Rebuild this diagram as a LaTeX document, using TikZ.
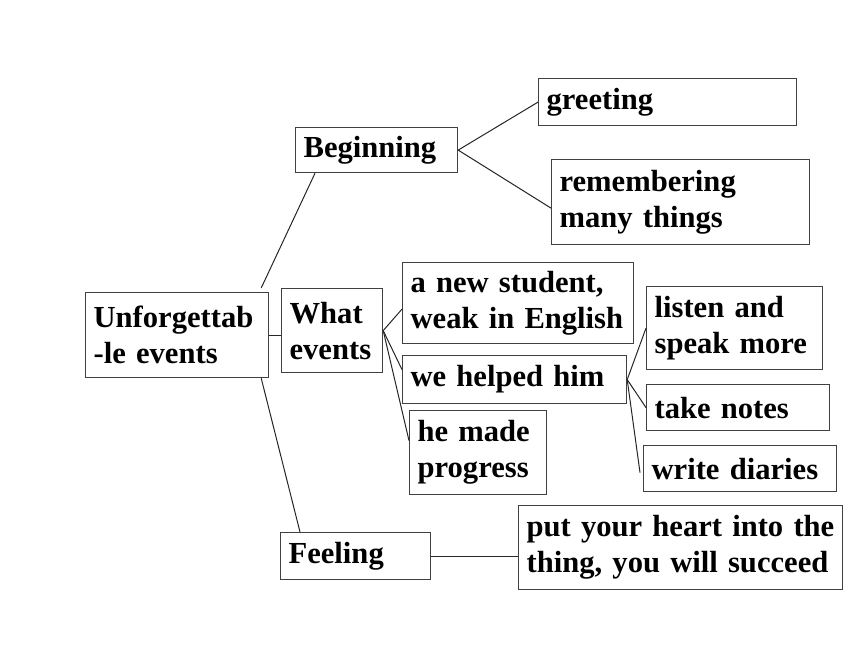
\documentclass[tikz,border=0pt]{standalone}
\usepackage{fontspec}
\setmainfont{Liberation Serif}

\begin{document}
\begin{tikzpicture}[x=0.5pt, y=-0.5pt,
    box/.style={draw=black!75, line width=0.6pt, anchor=north west, align=left,
        inner xsep=4pt, inner ysep=0pt, font=\fontsize{15.3}{18}\selectfont\bfseries},
    link/.style={draw=black!85, line width=0.5pt}]
    \useasboundingbox (0,0) rectangle (860,645);

    % Root
    \node[box, text width=83.5pt, minimum height=42.5pt] (unf) at (85,292) {Unforgettab\\-le events};

    % Main branches
    \node[box, text width=73pt, minimum height=22.5pt] (beg) at (295,127) {Beginning};
    \node[box, text width=42.5pt, minimum height=42pt] (what) at (281,288) {What\\events};
    \node[box, text width=67pt, minimum height=23.5pt] (feel) at (280,532) {Feeling};

    % Beginning
    \node[box, text width=121pt, minimum height=23.5pt] (greet) at (538,78) {greeting};
    \node[box, text width=121pt, minimum height=42.5pt] (rem) at (551,159) {remembering\\many things};

    % What events
    \node[box, text width=107.5pt, minimum height=40.5pt] (anew) at (402,262) {a new student,\\weak in English};
    \node[box, text width=104pt, minimum height=24pt] (helped) at (402,355) {we helped him};
    \node[box, text width=60.5pt, minimum height=42pt] (made) at (409,410) {he made\\progress};

    % How we helped
    \node[box, text width=80pt, minimum height=41.5pt] (listen) at (646,286) {listen and\\speak more};
    \node[box, text width=83.5pt, minimum height=23pt] (notes) at (646,384) {take notes};
    \node[box, text width=88.5pt, minimum height=23pt] (diaries) at (643,445) {write diaries};

    % Feeling
    \node[box, text width=154pt, minimum height=42pt] (heart) at (518,505) {put your heart into the\\thing, you will succeed};

    % Connectors
    \draw[link] ([xshift=-4pt,yshift=2pt]unf.north east) -- ([xshift=10pt]beg.south west);
    \draw[link] (unf.east) -- (unf.east -| what.west);
    \draw[link] ([xshift=-4pt]unf.south east) -- ([xshift=10pt]feel.north west);

    \draw[link] (beg.east) -- (greet.west);
    \draw[link] (beg.east) -- ([yshift=-3pt]rem.west);

    \draw[link] (what.east) -- ([yshift=-3pt]anew.west);
    \draw[link] (what.east) -- ([yshift=5pt]helped.west);
    \draw[link] (what.east) -- ([yshift=6pt]made.west);

    \draw[link] (helped.east) -- (listen.west);
    \draw[link] (helped.east) -- (notes.west);
    \draw[link] (helped.east) -- ([xshift=-1.5pt,yshift=-2pt]diaries.west);

    \draw[link] (feel.east) -- (feel.east -| heart.west);
\end{tikzpicture}
\end{document}
